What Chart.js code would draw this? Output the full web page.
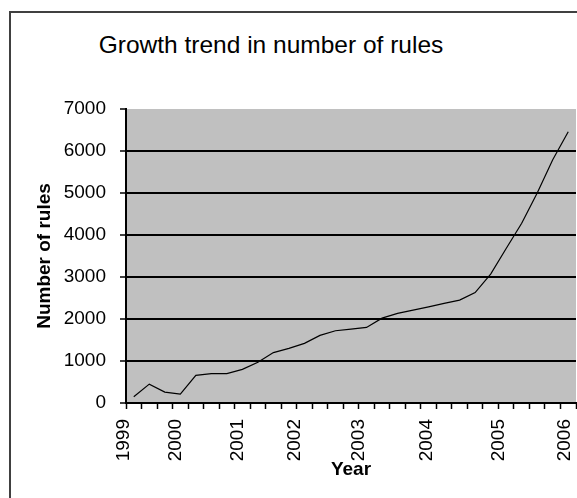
<!DOCTYPE html>
<html>
<head>
<meta charset="utf-8">
<script src="https://cdn.jsdelivr.net/npm/chart.js@4.4.0/dist/chart.umd.min.js"></script>
<style>
  html, body { margin: 0; padding: 0; background: #fff; overflow: hidden; }
  #wrap { position: relative; width: 577px; height: 498px; }
  #frame { position: absolute; left: 9px; top: 11px; width: 700px; height: 600px;
           border-left: 2px solid #404040; border-top: 2px solid #404040; box-sizing: border-box; }
  #title { position: absolute; left: 0; top: 33px; width: 542px; text-align: center;
           font-family: "Liberation Sans", Arial, sans-serif; font-size: 24.5px; line-height: 24px; color: #000; }
  canvas { position: absolute; left: 0; top: 0; }
</style>
</head>
<body>
<div id="wrap">
  <div id="frame"></div>
  <div id="title">Growth trend in number of rules</div>
  <canvas id="c" width="577" height="498"></canvas>
</div>
<script>
// Number of rules per release (one value per category slot along the x axis)
const values = [150, 450, 260, 210, 660, 700, 700, 800, 970, 1200, 1300, 1420, 1610, 1720, 1760,
                1800, 2020, 2135, 2210, 2290, 2370, 2450, 2630, 3070, 3680, 4280, 5000, 5790, 6460];
// Year labels and their position along the category axis (in category units)
const yearLabels = ["1999", "2000", "2001", "2002", "2003", "2004", "2005", "2006"];
const yearPositions = [-0.14, 3.21, 7.19, 10.87, 15.02, 19.37, 24.05, 28.29];
const yTicks = [0, 1000, 2000, 3000, 4000, 5000, 6000, 7000];

const nCats = values.length;
const points = values.map((v, i) => ({ x: i + 0.5, y: v }));
const FONT = "'Liberation Sans', Arial, sans-serif";

const plotBg = {
  id: 'plotBg',
  beforeDraw(chart) {
    const { ctx, chartArea: a } = chart;
    ctx.save();
    ctx.fillStyle = '#c0c0c0';
    ctx.fillRect(a.left, a.top, a.right - a.left, a.bottom - a.top);
    ctx.restore();
  }
};

new Chart(document.getElementById('c'), {
  type: 'line',
  data: {
    datasets: [{
      data: points,
      borderColor: '#000',
      borderWidth: 1.2,
      pointRadius: 0,
      tension: 0,
      fill: false
    }]
  },
  options: {
    responsive: false,
    devicePixelRatio: 1,
    animation: false,
    layout: { padding: { left: 30, top: 109, right: 1, bottom: 0 } },
    plugins: { legend: { display: false }, tooltip: { enabled: false }, title: { display: false } },
    scales: {
      x: {
        type: 'linear',
        min: 0,
        max: nCats,
        afterBuildTicks(scale) {
          const t = [];
          for (let i = 0; i <= nCats; i++) t.push({ value: i });
          yearPositions.forEach(p => t.push({ value: p }));
          scale.ticks = t;
        },
        afterFit(scale) { scale.height = 95; scale.paddingLeft = 0; scale.paddingRight = 0; },
        ticks: {
          autoSkip: false,
          maxRotation: 90,
          minRotation: 90,
          padding: 10,
          color: '#000',
          font: { family: FONT, size: 19 },
          callback: (v, i) => (i <= nCats ? '' : yearLabels[i - nCats - 1])
        },
        grid: {
          drawOnChartArea: false,
          drawTicks: true,
          tickLength: 6,
          tickWidth: 1.5,
          tickColor: ctx => (ctx.index <= nCats ? '#000' : 'rgba(0,0,0,0)')
        },
        border: { display: true, color: '#000', width: 2 },
        title: {
          display: true,
          text: 'Year',
          color: '#000',
          font: { family: FONT, size: 19, weight: 'bold' },
          padding: { top: 0, bottom: 17 }
        }
      },
      y: {
        min: 0,
        max: 7000,
        afterBuildTicks(scale) { scale.ticks = yTicks.map(v => ({ value: v })); },
        afterFit(scale) { scale.width = 96; },
        ticks: {
          padding: 14,
          color: '#000',
          font: { family: FONT, size: 19 },
          callback: v => String(v)
        },
        grid: {
          color: ctx => (ctx.tick && ctx.tick.value === 7000 ? 'rgba(0,0,0,0)' : '#000'),
          lineWidth: 2,
          tickLength: 6,
          tickWidth: 1.5,
          tickColor: '#000'
        },
        border: { display: true, color: '#000', width: 2 },
        title: {
          display: true,
          text: 'Number of rules',
          color: '#000',
          font: { family: FONT, size: 19, weight: 'bold' },
          padding: { top: 3.7, bottom: 0 }
        }
      }
    }
  },
  plugins: [plotBg]
});
</script>
</body>
</html>
